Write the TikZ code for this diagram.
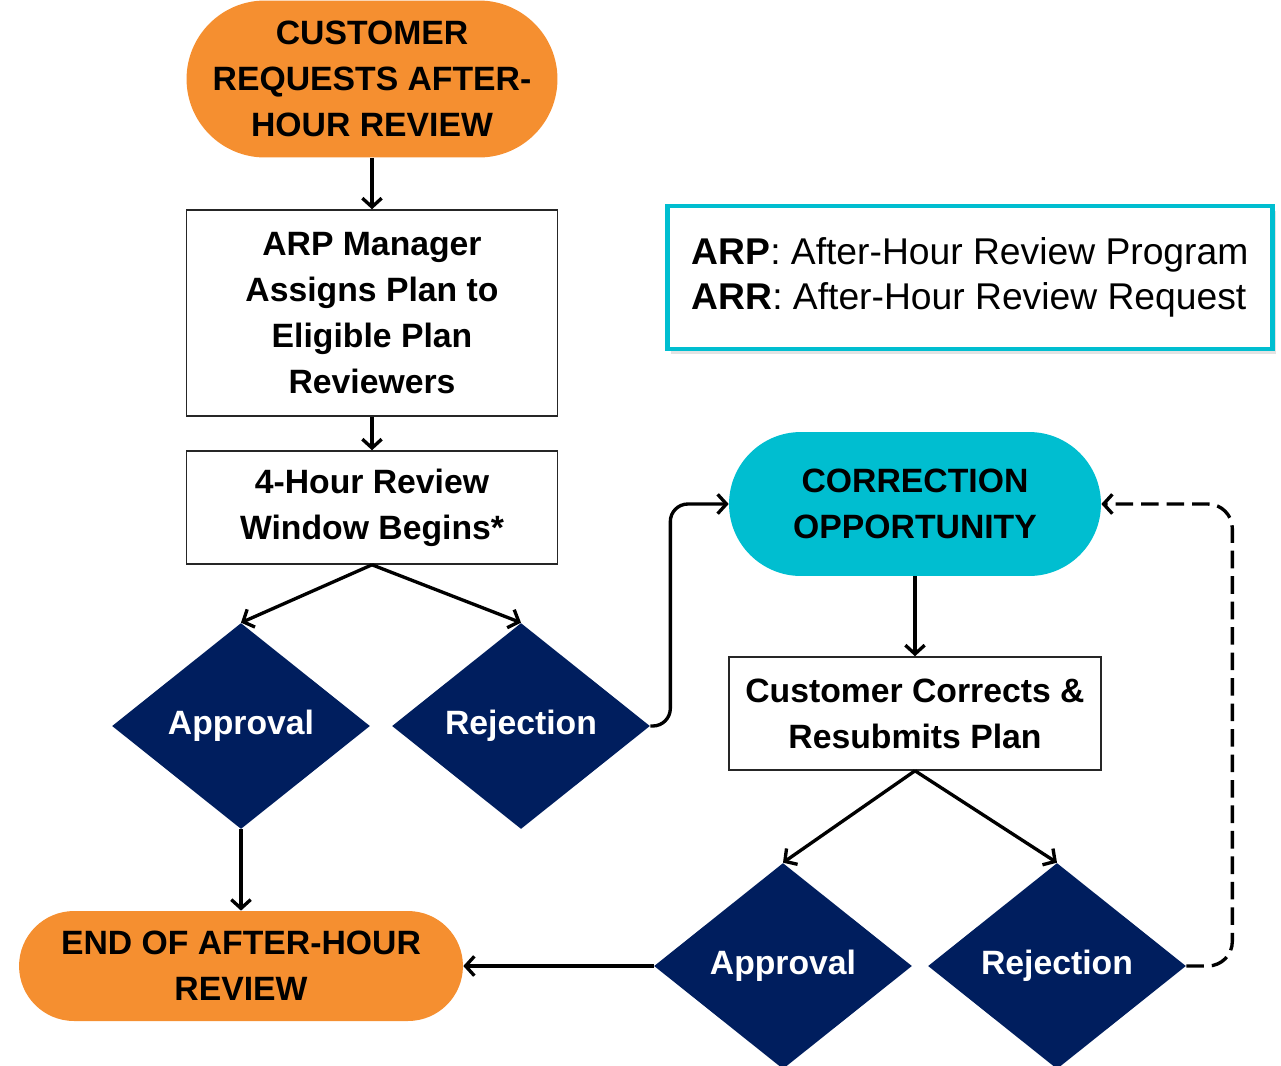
\documentclass[tikz,border=0pt]{standalone}
\usepackage{fontspec}
\setmainfont{Liberation Sans}
\usepackage{xcolor}
\definecolor{ColOrange}{RGB}{245,143,48}
\definecolor{ColCyan}{RGB}{0,190,208}
\definecolor{ColNavy}{RGB}{0,30,94}
\usepackage{tikz}
\usetikzlibrary{shapes}
\usetikzlibrary{arrows.meta}
\usetikzlibrary{shadows}
\newcommand{\FlowFont}{\bfseries\fontsize{19.2}{26.2}\selectfont}
\newcommand{\KeyFont}{\fontsize{21.2}{25.6}\selectfont}
\tikzstyle{Terminal}=[rectangle,fill=ColOrange,align=center,inner sep=0pt,
font=\FlowFont]
\tikzstyle{StepBox}=[rectangle,draw=black!85,line width=.9pt,fill=white,
align=center,inner sep=0pt,minimum width=7.42cm,font=\FlowFont]
\tikzstyle{Decision}=[diamond,fill=ColNavy,text=white,inner sep=0pt,
minimum width=5.16cm,minimum height=4.12cm,font=\FlowFont]
\tikzstyle{Flow}=[draw=black,line width=1.9pt,
-{Straight Barb[length=5pt,width=11pt,line width=1.9pt]}]

\begin{document}
\begin{tikzpicture}[x=0.02cm,y=-0.02cm]
            \useasboundingbox(0,0)rectangle(1281,1065);
            \node[Terminal,minimum width=7.42cm,minimum height=3.14cm,
                rounded corners=1.57cm](start)at(372,79)
                {CUSTOMER\\REQUESTS AFTER-\\HOUR REVIEW};
            \node[StepBox,minimum height=4.12cm](assign)at(372,313)
                {ARP Manager\\Assigns Plan to\\Eligible Plan\\Reviewers};
            \node[StepBox,minimum height=2.26cm](window)at(372,507.5)
                {4-Hour Review\\Window Begins*};
            \node[Decision](app1)at(241,726){Approval};
            \node[Decision](rej1)at(521,726){Rejection};
            \node[Terminal,fill=ColCyan,minimum width=7.44cm,
                minimum height=2.88cm,rounded corners=1.44cm](corr)
                at(915,504){CORRECTION\\OPPORTUNITY};
            \node[StepBox,minimum width=7.44cm,minimum height=2.26cm](fix)
                at(915,713.5){Customer Corrects \&\\Resubmits Plan};
            \node[Decision](app2)at(783,966){Approval};
            \node[Decision](rej2)at(1057,966){Rejection};
            \node[Terminal,minimum width=8.88cm,minimum height=2.2cm,
                rounded corners=1.1cm](finish)at(241,966)
                {END OF AFTER-HOUR\\REVIEW};
            % abbreviations
            \node[rectangle,draw=ColCyan,line width=2.8pt,fill=white,
                drop shadow={fill=black!22,shadow xshift=.07cm,
                shadow yshift=-.1cm},minimum width=12.1cm,
                minimum height=2.86cm,align=left,font=\KeyFont](key)
                at(970,277.5){\textbf{ARP}: After-Hour Review Program\\
                \textbf{ARR}: After-Hour Review Request};
            \draw[Flow](start)--(assign);
            \draw[Flow](assign)--(window);
            \draw[Flow](window.south)--(app1.north);
            \draw[Flow](window.south)--(rej1.north);
            \draw[Flow,rounded corners=10pt](rej1.east)--++(20,0)
                |-(corr.west);
            \draw[Flow](corr)--(fix);
            \draw[Flow](fix.south)--(app2.north);
            \draw[Flow](fix.south)--(rej2.north);
            \draw[Flow](app1)--(finish);
            \draw[Flow](app2.west)--(finish.east);
            \draw[Flow,dash pattern=on 10pt off 4.5pt,rounded corners=14pt]
                (rej2.east)--++(46,0)|-(corr.east);
        \end{tikzpicture}
\end{document}
